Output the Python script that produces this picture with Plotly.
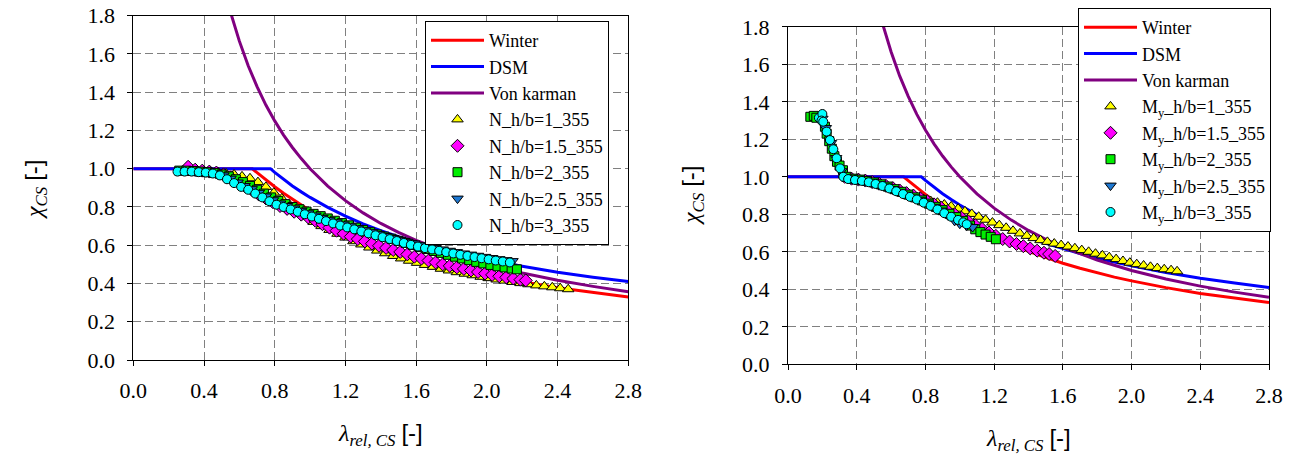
import plotly.graph_objects as go

# ---------------- theoretical curves ----------------
winter_x = [0, 0.673, 0.7, 0.75, 0.8, 0.85, 0.9, 0.95, 1.0, 1.1, 1.2, 1.3, 1.4, 1.5, 1.6, 1.7, 1.8, 1.9, 2.0, 2.2, 2.4, 2.6, 2.8]
winter_y = [1.0, 1.0, 0.980, 0.942, 0.906, 0.872, 0.840, 0.809, 0.780, 0.727, 0.681, 0.639, 0.602, 0.569, 0.539, 0.512, 0.488, 0.465, 0.445, 0.409, 0.378, 0.352, 0.329]
dsm_x = [0, 0.776, 0.8, 0.85, 0.9, 0.95, 1.0, 1.1, 1.2, 1.3, 1.4, 1.5, 1.6, 1.7, 1.8, 1.9, 2.0, 2.2, 2.4, 2.6, 2.8]
dsm_y = [1.0, 1.0, 0.981, 0.944, 0.910, 0.879, 0.850, 0.798, 0.752, 0.712, 0.676, 0.645, 0.616, 0.590, 0.566, 0.545, 0.525, 0.490, 0.459, 0.433, 0.410]
vk_x = [0.55, 0.6, 0.65, 0.7, 0.75, 0.8, 0.85, 0.9, 0.95, 1.0, 1.1, 1.2, 1.3, 1.4, 1.5, 1.6, 1.8, 2.0, 2.2, 2.4, 2.6, 2.8]
vk_y = [1.818, 1.667, 1.538, 1.429, 1.333, 1.25, 1.176, 1.111, 1.053, 1.0, 0.909, 0.833, 0.769, 0.714, 0.667, 0.625, 0.556, 0.5, 0.455, 0.417, 0.385, 0.357]

# ---------------- left chart: N ----------------
n1_x = [0.30, 0.345, 0.39, 0.435, 0.48, 0.525, 0.57, 0.615, 0.66, 0.705, 0.75, 0.795, 0.84, 0.885, 0.93, 0.975, 1.02, 1.065, 1.11, 1.155, 1.20, 1.245, 1.29, 1.335, 1.38, 1.425, 1.47, 1.515, 1.56, 1.605, 1.65, 1.695, 1.74, 1.785, 1.83, 1.875, 1.92, 1.965, 2.01, 2.055, 2.10, 2.145, 2.19, 2.235, 2.28, 2.325, 2.37, 2.415, 2.46]
n1_y = [0.99, 0.99, 0.985, 0.985, 0.98, 0.975, 0.97, 0.96, 0.95, 0.93, 0.905, 0.875, 0.845, 0.81, 0.78, 0.75, 0.722, 0.70, 0.68, 0.66, 0.64, 0.621, 0.604, 0.588, 0.572, 0.558, 0.544, 0.531, 0.519, 0.508, 0.497, 0.487, 0.477, 0.468, 0.459, 0.451, 0.443, 0.435, 0.428, 0.421, 0.415, 0.408, 0.402, 0.396, 0.390, 0.385, 0.380, 0.375, 0.370]

n15_x = [0.31, 0.35, 0.39, 0.43, 0.47, 0.51, 0.55, 0.59, 0.63, 0.67, 0.71, 0.75, 0.79, 0.83, 0.87, 0.91, 0.95, 0.99, 1.03, 1.07, 1.11, 1.15, 1.19, 1.23, 1.27, 1.31, 1.35, 1.39, 1.43, 1.47, 1.51, 1.55, 1.59, 1.63, 1.67, 1.71, 1.75, 1.79, 1.83, 1.87, 1.91, 1.95, 1.99, 2.03, 2.07, 2.11, 2.15, 2.19, 2.22]
n15_y = [1.01, 0.995, 0.99, 0.985, 0.98, 0.97, 0.955, 0.935, 0.91, 0.89, 0.865, 0.845, 0.825, 0.805, 0.79, 0.775, 0.76, 0.745, 0.728, 0.71, 0.692, 0.676, 0.66, 0.645, 0.632, 0.62, 0.608, 0.597, 0.586, 0.575, 0.565, 0.552, 0.54, 0.53, 0.52, 0.51, 0.50, 0.492, 0.484, 0.476, 0.468, 0.46, 0.452, 0.445, 0.438, 0.432, 0.426, 0.42, 0.416]

n2_x = [0.26, 0.30, 0.34, 0.38, 0.42, 0.46, 0.50, 0.54, 0.58, 0.62, 0.66, 0.70, 0.74, 0.78, 0.82, 0.86, 0.90, 0.94, 0.98, 1.02, 1.06, 1.10, 1.14, 1.18, 1.22, 1.26, 1.30, 1.34, 1.38, 1.42, 1.46, 1.50, 1.54, 1.58, 1.62, 1.66, 1.70, 1.74, 1.78, 1.82, 1.86, 1.90, 1.94, 1.98, 2.02, 2.06, 2.10, 2.14, 2.17]
n2_y = [0.99, 0.99, 0.988, 0.985, 0.982, 0.978, 0.97, 0.96, 0.945, 0.93, 0.91, 0.89, 0.87, 0.85, 0.832, 0.815, 0.80, 0.788, 0.776, 0.764, 0.752, 0.74, 0.728, 0.716, 0.704, 0.692, 0.68, 0.668, 0.656, 0.645, 0.634, 0.623, 0.612, 0.601, 0.59, 0.58, 0.57, 0.56, 0.55, 0.54, 0.531, 0.522, 0.513, 0.505, 0.497, 0.49, 0.484, 0.478, 0.474]

n25_x = [0.27, 0.31, 0.35, 0.39, 0.43, 0.47, 0.51, 0.55, 0.59, 0.63, 0.67, 0.71, 0.75, 0.79, 0.83, 0.87, 0.91, 0.95, 0.99, 1.03, 1.07, 1.11, 1.15, 1.19, 1.23, 1.27, 1.31, 1.35, 1.39, 1.43, 1.47, 1.51, 1.55, 1.59, 1.63, 1.67, 1.71, 1.75, 1.79, 1.83, 1.87, 1.91, 1.95, 1.99, 2.03, 2.07, 2.11, 2.145]
n25_y = [0.99, 0.988, 0.986, 0.984, 0.981, 0.975, 0.965, 0.948, 0.928, 0.91, 0.893, 0.874, 0.855, 0.835, 0.818, 0.805, 0.792, 0.78, 0.767, 0.755, 0.743, 0.731, 0.72, 0.709, 0.699, 0.688, 0.678, 0.668, 0.658, 0.648, 0.638, 0.628, 0.618, 0.609, 0.60, 0.592, 0.585, 0.578, 0.571, 0.564, 0.557, 0.551, 0.545, 0.539, 0.533, 0.527, 0.522, 0.517]

n3_x = [0.25, 0.29, 0.33, 0.37, 0.41, 0.45, 0.49, 0.53, 0.57, 0.61, 0.65, 0.69, 0.73, 0.77, 0.81, 0.85, 0.89, 0.93, 0.97, 1.01, 1.05, 1.09, 1.13, 1.17, 1.21, 1.25, 1.29, 1.33, 1.37, 1.41, 1.45, 1.49, 1.53, 1.57, 1.61, 1.65, 1.69, 1.73, 1.77, 1.81, 1.85, 1.89, 1.93, 1.97, 2.01, 2.05, 2.09, 2.13]
n3_y = [0.985, 0.985, 0.985, 0.982, 0.98, 0.975, 0.965, 0.945, 0.925, 0.905, 0.89, 0.87, 0.85, 0.83, 0.812, 0.80, 0.787, 0.775, 0.762, 0.75, 0.738, 0.726, 0.714, 0.703, 0.693, 0.683, 0.672, 0.662, 0.652, 0.642, 0.632, 0.622, 0.612, 0.602, 0.593, 0.585, 0.578, 0.571, 0.564, 0.557, 0.55, 0.544, 0.538, 0.532, 0.526, 0.52, 0.515, 0.51]

# ---------------- right chart: My ----------------
m1_x = [0.35, 0.39, 0.43, 0.47, 0.51, 0.55, 0.59, 0.63, 0.67, 0.71, 0.75, 0.79, 0.83, 0.87, 0.91, 0.95, 0.99, 1.03, 1.07, 1.11, 1.15, 1.19, 1.23, 1.27, 1.31, 1.35, 1.39, 1.43, 1.47, 1.51, 1.55, 1.59, 1.63, 1.67, 1.71, 1.75, 1.79, 1.83, 1.87, 1.91, 1.95, 1.99, 2.03, 2.07, 2.11, 2.15, 2.19, 2.23, 2.265]
m1_y = [0.99, 0.985, 0.98, 0.973, 0.965, 0.955, 0.943, 0.93, 0.917, 0.904, 0.892, 0.881, 0.871, 0.862, 0.852, 0.842, 0.83, 0.816, 0.802, 0.787, 0.771, 0.756, 0.742, 0.728, 0.712, 0.698, 0.685, 0.673, 0.662, 0.653, 0.644, 0.636, 0.628, 0.619, 0.609, 0.60, 0.59, 0.581, 0.571, 0.561, 0.551, 0.542, 0.534, 0.527, 0.52, 0.513, 0.507, 0.502, 0.496]

m15_x = [0.33, 0.37, 0.41, 0.45, 0.49, 0.53, 0.57, 0.61, 0.65, 0.69, 0.73, 0.77, 0.81, 0.85, 0.89, 0.93, 0.97, 1.01, 1.05, 1.09, 1.13, 1.17, 1.21, 1.25, 1.29, 1.33, 1.37, 1.41, 1.45, 1.49, 1.52, 1.555]
m15_y = [1.0, 0.99, 0.985, 0.98, 0.972, 0.963, 0.952, 0.94, 0.927, 0.913, 0.90, 0.885, 0.87, 0.853, 0.836, 0.818, 0.80, 0.782, 0.762, 0.742, 0.722, 0.703, 0.685, 0.668, 0.655, 0.642, 0.63, 0.618, 0.606, 0.595, 0.588, 0.578]

m2_x = [0.13, 0.15, 0.165, 0.215, 0.225, 0.24, 0.255, 0.27, 0.285, 0.30, 0.32, 0.34, 0.38, 0.42, 0.46, 0.50, 0.54, 0.58, 0.62, 0.66, 0.70, 0.74, 0.78, 0.82, 0.86, 0.90, 0.94, 0.98, 1.02, 1.06, 1.09, 1.12, 1.15, 1.18, 1.21]
m2_y = [1.32, 1.325, 1.315, 1.267, 1.23, 1.19, 1.15, 1.11, 1.08, 1.06, 1.035, 1.0, 0.99, 0.985, 0.978, 0.97, 0.96, 0.948, 0.934, 0.92, 0.905, 0.89, 0.874, 0.857, 0.84, 0.822, 0.803, 0.785, 0.765, 0.74, 0.72, 0.705, 0.692, 0.68, 0.667]

m25_x = [0.20, 0.22, 0.25, 0.28, 0.31, 0.34, 0.37, 0.41, 0.45, 0.49, 0.53, 0.57, 0.61, 0.65, 0.69, 0.73, 0.77, 0.81, 0.85, 0.89, 0.93, 0.97, 1.0, 1.04, 1.075]
m25_y = [1.31, 1.26, 1.18, 1.10, 1.03, 0.995, 0.99, 0.985, 0.978, 0.97, 0.96, 0.948, 0.935, 0.92, 0.905, 0.89, 0.875, 0.858, 0.84, 0.82, 0.795, 0.765, 0.75, 0.74, 0.732]

m3_x = [0.18, 0.20, 0.195, 0.205, 0.225, 0.244, 0.264, 0.283, 0.303, 0.322, 0.35, 0.39, 0.43, 0.47, 0.51, 0.55, 0.59, 0.63, 0.67, 0.71, 0.75, 0.79, 0.83, 0.87, 0.91, 0.95, 0.99, 1.02, 1.04]
m3_y = [1.315, 1.335, 1.30, 1.294, 1.241, 1.196, 1.147, 1.099, 1.045, 1.0, 0.988, 0.983, 0.978, 0.971, 0.962, 0.951, 0.938, 0.923, 0.908, 0.893, 0.879, 0.862, 0.845, 0.826, 0.806, 0.787, 0.77, 0.757, 0.747]

x_ticks = [0.0, 0.4, 0.8, 1.2, 1.6, 2.0, 2.4, 2.8]
y_ticks = [0.0, 0.2, 0.4, 0.6, 0.8, 1.0, 1.2, 1.4, 1.6, 1.8]

W, H = 1296, 457
SERIF = "Liberation Serif"
SANS = "Liberation Sans"

marker_styles = [
    dict(symbol="triangle-up", color="#FFFF00", size=10),
    dict(symbol="diamond", color="#FF00FF", size=10),
    dict(symbol="square", color="#00EE00", size=9),
    dict(symbol="triangle-down", color="#1E78D2", size=10),
    dict(symbol="circle", color="#00FFFF", size=9),
]

fig = go.Figure()

def add_panel(xa, ya, legend, series, names):
    fig.add_trace(go.Scatter(x=winter_x, y=winter_y, mode="lines", name="Winter",
                             line=dict(color="#FF0000", width=3), xaxis=xa, yaxis=ya, legend=legend))
    fig.add_trace(go.Scatter(x=dsm_x, y=dsm_y, mode="lines", name="DSM",
                             line=dict(color="#0000FF", width=3), xaxis=xa, yaxis=ya, legend=legend))
    fig.add_trace(go.Scatter(x=vk_x, y=vk_y, mode="lines", name="Von karman",
                             line=dict(color="#800080", width=3), xaxis=xa, yaxis=ya, legend=legend))
    for (sx, sy), nm, st in zip(series, names, marker_styles):
        fig.add_trace(go.Scatter(x=sx, y=sy, mode="markers", name=nm,
                                 marker=dict(symbol=st["symbol"], color=st["color"], size=st["size"],
                                             line=dict(color="black", width=1)),
                                 xaxis=xa, yaxis=ya, legend=legend, cliponaxis=False))

add_panel("x", "y", "legend",
          [(n1_x, n1_y), (n15_x, n15_y), (n2_x, n2_y), (n25_x, n25_y), (n3_x, n3_y)],
          ["N_h/b=1_355", "N_h/b=1.5_355", "N_h/b=2_355", "N_h/b=2.5_355", "N_h/b=3_355"])
add_panel("x2", "y2", "legend2",
          [(m1_x, m1_y), (m15_x, m15_y), (m2_x, m2_y), (m25_x, m25_y), (m3_x, m3_y)],
          ["M<sub>y</sub>_h/b=1_355", "M<sub>y</sub>_h/b=1.5_355", "M<sub>y</sub>_h/b=2_355",
           "M<sub>y</sub>_h/b=2.5_355", "M<sub>y</sub>_h/b=3_355"])

def px_x(p):
    return p / W

def px_y(p):
    return (H - p) / H

def axis(domain, anchor, tickvals, rng, standoff):
    return dict(domain=domain, anchor=anchor, range=rng, tickvals=tickvals,
                showgrid=True, gridcolor="#808080", gridwidth=1, griddash="8px,4px",
                showline=True, linecolor="black", linewidth=1, mirror=True,
                ticks="outside", ticklen=5, tickcolor="black", zeroline=False,
                automargin=False, ticklabelstandoff=standoff,
                tickfont=dict(family=SERIF, size=22, color="black"), tickformat=".1f")

def legend_box(x, y):
    return dict(x=x, y=y, xanchor="left", yanchor="top", bgcolor="white", bordercolor="black",
                borderwidth=1, font=dict(family=SERIF, size=18, color="black"),
                itemwidth=53, tracegroupgap=0)

fig.update_layout(
    width=W, height=H, autosize=False,
    margin=dict(l=0, r=0, t=0, b=0),
    paper_bgcolor="white", plot_bgcolor="white",
    showlegend=True,
    xaxis=axis([px_x(133.3), px_x(628.3)], "y", x_ticks, [0, 2.8], 6),
    yaxis=axis([px_y(360), px_y(15.7)], "x", y_ticks, [0, 1.8], 8),
    xaxis2=axis([px_x(788), px_x(1269)], "y2", x_ticks, [0, 2.8], 6),
    yaxis2=axis([px_y(364.3), px_y(26.8)], "x2", y_ticks, [0, 1.8], 8),
    legend=legend_box(px_x(425), px_y(21)),
    legend2=legend_box(px_x(1078), px_y(8)),
)

xtitle = '<i>λ</i><sub><i>rel, CS</i></sub> <span style="font-family:Liberation Sans">[-]</span>'
ytitle = '<i>χ</i><sub><i>CS</i></sub> <span style="font-family:Liberation Sans">[-]</span>'
title_font = dict(family=SERIF, size=24, color="black")
fig.add_annotation(text=xtitle, x=px_x(380.8), y=px_y(434), xref="paper", yref="paper",
                   xanchor="center", yanchor="middle", showarrow=False, font=title_font)
fig.add_annotation(text=xtitle, x=px_x(1028.5), y=px_y(439), xref="paper", yref="paper",
                   xanchor="center", yanchor="middle", showarrow=False, font=title_font)
fig.add_annotation(text=ytitle, x=px_x(35), y=px_y(190), xref="paper", yref="paper",
                   xanchor="center", yanchor="middle", showarrow=False, font=title_font, textangle=-90)
fig.add_annotation(text=ytitle, x=px_x(693), y=px_y(196), xref="paper", yref="paper",
                   xanchor="center", yanchor="middle", showarrow=False, font=title_font, textangle=-90)

fig.write_html("out.html")
